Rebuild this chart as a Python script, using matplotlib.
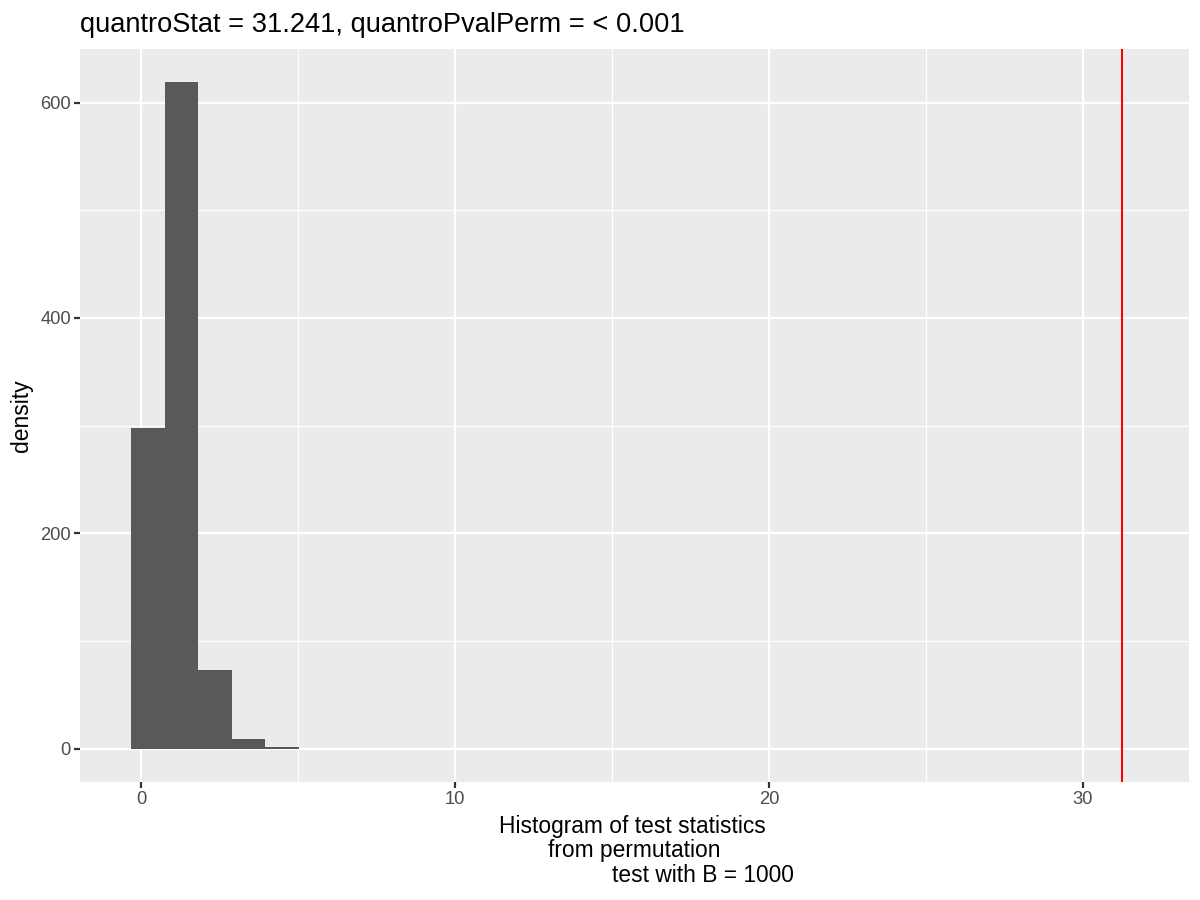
import matplotlib
matplotlib.use("Agg")
import matplotlib.pyplot as plt
import numpy as np
from matplotlib.ticker import MultipleLocator

plt.rcParams['font.family'] = ['Liberation Sans', 'DejaVu Sans']

# data
bin_edges = [-0.325, 0.746, 1.817, 2.888, 3.959, 5.030]
bin_heights = [297.7, 618.6, 72.9, 8.8, 1.0]
quantro_stat = 31.241
title_text = "quantroStat = 31.241, quantroPvalPerm = < 0.001"
xlabel_lines = ["Histogram of test statistics", "from permutation", "test with B = 1000"]
ylabel_text = "density"
x_major = [0, 10, 20, 30]
y_major = [0, 200, 400, 600]

W, H = 1200, 900
fig = plt.figure(figsize=(12, 9), dpi=100)
fig.patch.set_facecolor('white')
L, R, T, B = 80, 1188.7, 49, 781.7
ax = fig.add_axes([L / W, 1 - B / H, (R - L) / W, (B - T) / H])
ax.set_facecolor('#EBEBEB')

# grid
ax.set_xticks(x_major)
ax.set_yticks(y_major)
ax.xaxis.set_minor_locator(MultipleLocator(5))
ax.yaxis.set_minor_locator(MultipleLocator(100))
ax.grid(which='major', color='white', linewidth=1.6)
ax.grid(which='minor', color='white', linewidth=0.8)
ax.set_axisbelow(True)

edges = np.array(bin_edges)
ax.bar(edges[:-1], bin_heights, width=np.diff(edges), align='edge',
       color='#595959', edgecolor='none', linewidth=0)
ax.axvline(quantro_stat, color='#FF0000', linewidth=1.45)

ax.set_xlim(-1.95, 33.38)
ax.set_ylim(-30.8, 649.7)

for s in ax.spines.values():
    s.set_visible(False)
ax.tick_params(which='major', length=4, width=1.6, color='#333333',
               labelsize=13.2, labelcolor='#4D4D4D', pad=2.5)
ax.tick_params(which='minor', length=0)

# texts
fig.text(L / W, 1 - 32 / H, title_text, fontsize=19.6, ha='left', va='baseline', color='black')
fig.text(22 / W, 1 - ((T + B) / 2) / H, ylabel_text, fontsize=16.5, rotation=90,
         ha='center', va='center', color='black')
centers = [632, 634, 703]
baselines = [833, 857, 882]
for line, cx, by in zip(xlabel_lines, centers, baselines):
    fig.text(cx / W, 1 - by / H, line, fontsize=16.4, ha='center', va='baseline', color='black')

fig.savefig('out.png', dpi=100)
